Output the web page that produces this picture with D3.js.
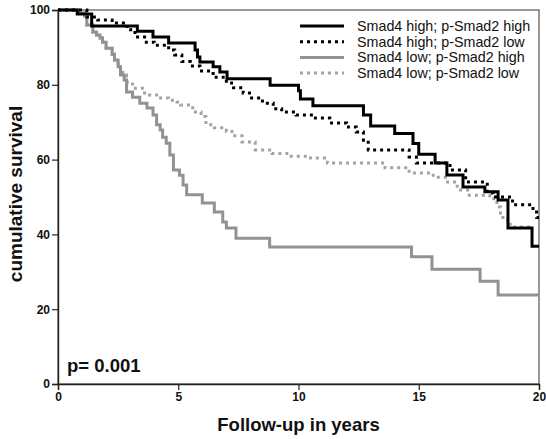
<!DOCTYPE html>
<html>
<head>
<meta charset="utf-8">
<script src="https://cdn.jsdelivr.net/npm/d3@7"></script>
<style>
  html, body { margin: 0; padding: 0; background: #fff; }
  svg { display: block; font-family: "Liberation Sans", Arial, Helvetica, sans-serif; }
</style>
</head>
<body>
<svg id="chart" width="546" height="439"></svg>
<script>
// ---- data ----
const seriesNames = [
  "Smad4 high; p-Smad2 high",
  "Smad4 high; p-Smad2 low",
  "Smad4 low; p-Smad2 high",
  "Smad4 low; p-Smad2 low"
];
// step times (years) and cumulative survival (%)
const highHighT = [0, 0.8, 1.4, 3.3, 3.95, 4.6, 5.7, 5.8, 5.9, 6.45, 6.73, 7.03, 8.82, 10.0, 10.08, 10.6, 12.7, 13.0, 14.0, 14.76, 15.0, 15.68, 16.17, 16.84, 17.75, 18.3, 18.71, 19.71, 20];
const highHighS = [100, 98.9, 95.7, 94.3, 92.8, 91.2, 89.3, 87.4, 86.1, 84.8, 83.4, 81.6, 79.9, 78.4, 76.2, 74.4, 71.9, 69.0, 67.0, 64.3, 61.4, 59.1, 55.9, 52.7, 51.4, 49.2, 41.7, 36.8, 36.8];

const highLowT = [0, 1.2, 1.65, 2.25, 2.87, 3.2, 3.6, 4.0, 4.6, 4.85, 5.15, 5.5, 5.9, 6.45, 7.0, 7.3, 7.7, 8.05, 8.5, 8.95, 9.3, 9.9, 10.6, 11.3, 12.0, 12.4, 12.7, 12.9, 14.6, 14.9, 16.3, 16.95, 17.85, 18.1, 18.9, 19.75, 19.9, 20];
const highLowS = [100, 98.1, 97.3, 96.5, 94.7, 92.8, 91.4, 90.6, 89.3, 88.0, 86.2, 85.0, 83.7, 82.0, 80.5, 79.2, 77.8, 76.5, 75.1, 73.6, 72.7, 71.9, 71.1, 69.8, 68.7, 67.4, 65.2, 62.6, 60.7, 59.1, 57.2, 54.0, 51.1, 50.0, 47.9, 46.0, 44.5, 44.5];

const lowHighT = [0, 0.85, 1.1, 1.2, 1.45, 1.6, 1.75, 1.85, 2.0, 2.25, 2.35, 2.5, 2.6, 2.75, 2.85, 3.1, 3.4, 3.7, 3.95, 4.1, 4.25, 4.35, 4.5, 4.65, 4.8, 5.05, 5.2, 5.35, 6.0, 6.5, 6.85, 7.0, 7.4, 8.8, 14.7, 15.55, 17.55, 18.3, 20];
const lowHighS = [100, 99.2, 98.4, 96.0, 94.1, 93.3, 92.5, 91.4, 89.8, 88.2, 86.6, 84.8, 82.6, 81.3, 78.1, 76.7, 75.1, 73.8, 71.9, 69.3, 67.9, 66.0, 64.4, 61.2, 57.2, 55.8, 53.2, 50.6, 48.4, 46.0, 43.3, 41.7, 39.0, 36.6, 34.0, 30.7, 27.5, 23.8, 23.8];

const lowLowT = [0, 0.85, 1.1, 1.2, 1.45, 1.6, 1.75, 1.85, 2.0, 2.25, 2.35, 2.5, 2.7, 2.85, 3.1, 3.6, 4.2, 4.6, 4.95, 5.1, 5.6, 5.95, 6.15, 6.5, 7.0, 7.35, 7.65, 8.2, 8.9, 9.6, 10.5, 11.2, 13.6, 14.6, 15.6, 16.2, 16.6, 17.1, 17.95, 18.25, 18.4, 18.5, 18.8, 19.75];
const lowLowS = [100, 99.2, 98.4, 96.0, 94.1, 93.3, 92.5, 91.4, 89.8, 88.2, 86.6, 84.5, 82.6, 80.7, 79.1, 77.3, 76.5, 75.9, 75.4, 74.6, 72.7, 71.5, 69.3, 68.5, 67.5, 66.4, 64.7, 62.6, 61.6, 60.9, 60.4, 59.1, 57.8, 56.4, 55.3, 54.0, 51.9, 50.5, 49.5, 47.3, 45.2, 43.9, 42.0, 42.0];

const xTicks = [0, 5, 10, 15, 20];
const yTicks = [0, 20, 40, 60, 80, 100];
const pLabel = "p= 0.001";
const xTitle = "Follow-up in years";
const yTitle = "cumulative survival";

// ---- styles ----
const styles = [
  { color: "#000000", dash: null },
  { color: "#000000", dash: "3,4" },
  { color: "#929292", dash: null },
  { color: "#a3a3a3", dash: "3,4" }
];

const series = [
  [highHighT, highHighS],
  [highLowT, highLowS],
  [lowHighT, lowHighS],
  [lowLowT, lowLowS]
].map(([t, s], i) => ({ name: seriesNames[i], pts: t.map((v, j) => [v, s[j]]), style: styles[i] }));

// ---- layout ----
const svg = d3.select("#chart");
const x = d3.scaleLinear().domain([0, 20]).range([58, 539]);
const y = d3.scaleLinear().domain([0, 100]).range([384, 10]);

// frame (top and right)
svg.append("rect")
  .attr("x", x(0)).attr("y", y(100))
  .attr("width", x(20) - x(0)).attr("height", y(0) - y(100))
  .attr("fill", "none").attr("stroke", "#555").attr("stroke-width", 1.2);

// axes
const xAxis = svg.append("g").attr("transform", `translate(0,${y(0)})`)
  .call(d3.axisBottom(x).tickValues(xTicks).tickSize(6).tickPadding(2).tickFormat(d3.format("d")));
const yAxis = svg.append("g").attr("transform", `translate(${x(0)},0)`)
  .call(d3.axisLeft(y).tickValues(yTicks).tickSize(6).tickPadding(2).tickFormat(d3.format("d")));
[xAxis, yAxis].forEach(g => {
  g.select(".domain").attr("stroke", "#222").attr("stroke-width", 1.4);
  g.selectAll(".tick line").attr("stroke", "#222").attr("stroke-width", 1.2);
  g.selectAll(".tick text").attr("fill", "#111")
    .style("font-family", '"Liberation Sans", Arial, sans-serif')
    .style("font-size", "12px").style("font-weight", "bold");
});

// curves
const line = d3.line().x(d => x(d[0])).y(d => y(d[1])).curve(d3.curveStepAfter);
const drawOrder = [3, 2, 1, 0];
drawOrder.forEach(i => {
  const s = series[i];
  svg.append("path")
    .attr("d", line(s.pts))
    .attr("fill", "none")
    .attr("stroke", s.style.color)
    .attr("stroke-width", 3)
    .attr("stroke-dasharray", s.style.dash)
    .attr("stroke-linejoin", "miter");
});

// legend
const leg = svg.append("g");
series.forEach((s, i) => {
  const ly = 26 + i * 15.7;
  leg.append("line")
    .attr("x1", 300).attr("x2", 344).attr("y1", ly).attr("y2", ly)
    .attr("stroke", s.style.color).attr("stroke-width", 3)
    .attr("stroke-dasharray", s.style.dash);
  leg.append("text")
    .attr("x", 357).attr("y", ly + 5)
    .attr("font-size", 14.3).attr("fill", "#111")
    .text(s.name);
});

// p value
svg.append("text")
  .attr("x", 67).attr("y", 372)
  .attr("font-size", 18.5).attr("font-weight", "bold").attr("fill", "#111")
  .text(pLabel);

// axis titles
svg.append("text")
  .attr("x", (x(0) + x(20)) / 2).attr("y", 431)
  .attr("text-anchor", "middle")
  .attr("font-size", 18.5).attr("font-weight", "bold").attr("fill", "#111")
  .text(xTitle);
svg.append("text")
  .attr("transform", `translate(22,${(y(0) + y(100)) / 2 - 3}) rotate(-90)`)
  .attr("text-anchor", "middle")
  .attr("font-size", 19).attr("font-weight", "bold").attr("fill", "#111")
  .text(yTitle);
</script>
</body>
</html>
